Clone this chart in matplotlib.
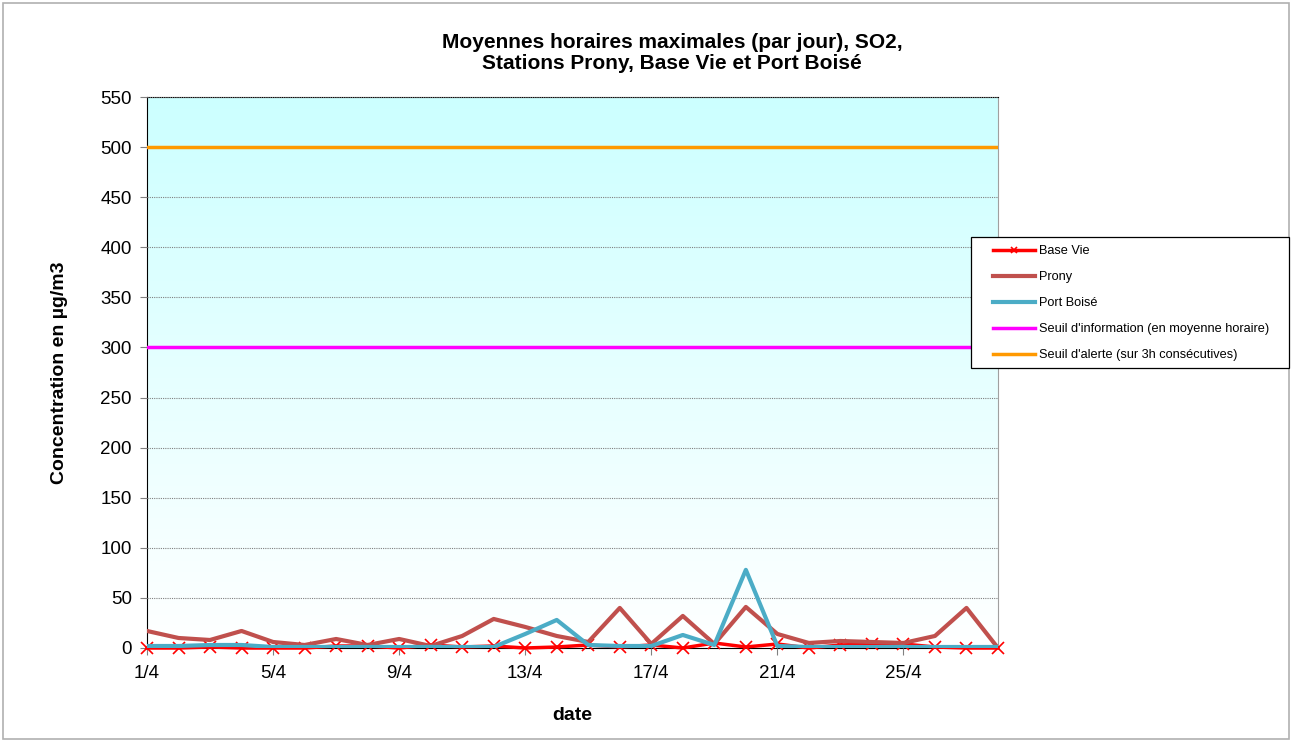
import matplotlib.pyplot as plt
import numpy as np
from matplotlib.patches import Rectangle
from matplotlib.colors import LinearSegmentedColormap

plt.rcParams['font.family'] = ['Liberation Sans', 'DejaVu Sans']

# days of April
days = list(range(1, 29))
tick_days = [1, 5, 9, 13, 17, 21, 25]
tick_labels = [str(d) + "/4" for d in tick_days]

base_vie = [0, 0, 1, 0, 0, 0, 2, 2, 0, 3, 1, 2, 0, 1, 3, 1, 3, 0, 5, 1, 4, 0, 3, 4, 4, 1, 0, 0]
prony = [17, 10, 8, 17, 6, 3, 9, 3, 9, 2, 12, 29, 21, 12, 6, 40, 4, 32, 4, 41, 14, 5, 7, 6, 5, 12, 40, 0]
port_boise = [2, 2, 3, 3, 1, 1, 1, 1, 1, 1, 1, 1, 14, 28, 3, 2, 2, 13, 3, 78, 2, 1, 1, 1, 1, 1, 1, 1]
seuil_info = 300
seuil_alerte = 500

W, H = 1292, 742
fig = plt.figure(figsize=(W/100, H/100), dpi=100)
ax = fig.add_axes([147/W, 1 - 648/H, (998-147)/W, (648-97)/H])

# gradient background, cyan at top to white at bottom
grad = np.linspace(0, 1, 256).reshape(-1, 1)
cmap = LinearSegmentedColormap.from_list("bg", ["#ffffff", "#ccffff"])
ax.imshow(grad, extent=[1, 28, 0, 550], origin="lower", aspect="auto", cmap=cmap, zorder=0)

ax.set_xlim(1, 28)
ax.set_ylim(0, 550)
ax.set_yticks(range(0, 551, 50))
ax.yaxis.grid(True, color="#808080", linestyle=(0, (1, 1)), linewidth=0.8, zorder=1)
ax.set_axisbelow(False)

ax.plot(days, base_vie, color="#ff0000", linewidth=2.5, marker="x", markersize=9,
        markeredgewidth=1.2, label="Base Vie", clip_on=False, zorder=3)
ax.plot(days, prony, color="#c0504d", linewidth=3, label="Prony", zorder=3)
ax.plot(days, port_boise, color="#4bacc6", linewidth=3, label="Port Boisé", zorder=3)
ax.plot([1, 28], [seuil_info, seuil_info], color="#ff00ff", linewidth=2.5,
        label="Seuil d'information (en moyenne horaire)", zorder=3)
ax.plot([1, 28], [seuil_alerte, seuil_alerte], color="#ff9900", linewidth=2.5,
        label="Seuil d'alerte (sur 3h consécutives)", zorder=3)

ax.set_xticks(tick_days)
ax.set_xticklabels(tick_labels)
ax.tick_params(axis="both", labelsize=13.5, color="#808080", length=5, pad=6)
ax.tick_params(axis="x", pad=7)

for s in ["left", "bottom", "top"]:
    ax.spines[s].set_color("black")
ax.spines["right"].set_color("#a0a0a0")

fig.text(672/W, 1 - 53/H, "Moyennes horaires maximales (par jour), SO2,\nStations Prony, Base Vie et Port Boisé",
         ha="center", va="center", fontsize=15, fontweight="bold", linespacing=1.15)
ax.set_xlabel("date", fontsize=14, fontweight="bold", labelpad=18)
ax.set_ylabel("Concentration en µg/m3", fontsize=14, fontweight="bold", labelpad=23)

leg = fig.legend(loc="upper left", bbox_to_anchor=(993/W, 1 - 245/H), fontsize=9.2,
                 frameon=False, labelspacing=1.1, handlelength=3.3, handletextpad=0.3,
                 borderpad=0, borderaxespad=0, markerscale=0.5)
leg.set_zorder(6)

# legend box, drawn above the axes
fig.patches.append(Rectangle((971/W, 1 - 368/H), 318/W, 131/H, transform=fig.transFigure,
                             facecolor="white", edgecolor="black", linewidth=0.9, zorder=5))
# outer chart border
fig.patches.append(Rectangle((3/W, 3/H), 1 - 6/W, 1 - 6/H, transform=fig.transFigure,
                             fill=False, edgecolor="#b0b0b0", linewidth=1.2))

fig.savefig("out.png", dpi=100)
